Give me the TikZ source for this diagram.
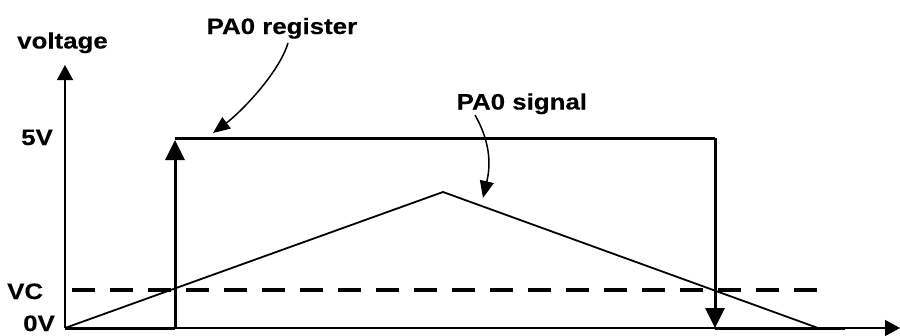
\documentclass[tikz,border=0pt]{standalone}
\usepackage{fontspec}
\newfontfamily\lab[FakeStretch=1.16,FakeBold=0.3]{Liberation Sans}
\usetikzlibrary{arrows.meta}
\tikzset{
  lbl/.style={anchor=base west,inner sep=0pt,font=\lab\bfseries\fontsize{22.3}{26}\selectfont},
  axisline/.style={line width=1.5pt},
  regline/.style={line width=3pt},
  sigline/.style={line width=1.8pt},
  vcline/.style={line width=3.5pt,dash pattern=on 23pt off 15pt,dash phase=-7pt},
  bigtip/.style={-{Triangle[length=20pt,width=19pt]}},
  axtip/.style={-{Triangle[length=15pt,width=16pt]}},
  annot/.style={line width=1.5pt,-{Triangle[length=17pt,width=14pt]}}
}
\begin{document}
\begin{tikzpicture}[x=1pt,y=-1pt]
\useasboundingbox (0,0) rectangle (900,335);
% coordinates
\coordinate (O) at (65,328);
\coordinate (ytop) at (65,65);
\coordinate (xend) at (900,328);
\coordinate (r0) at (175,328);
\coordinate (rup) at (175,140);
\coordinate (rtl) at (175,138);
\coordinate (rtr) at (715,138);
\coordinate (rdn) at (715,328);
\coordinate (rend) at (845,328);
\coordinate (peak) at (443,192);
\coordinate (sigend) at (818,328);
\coordinate (vc0) at (65,290);
\coordinate (vc1) at (818,290);
\coordinate (a1s) at (288,43);
\coordinate (a1e) at (213,133);
\coordinate (a2s) at (475,115);
\coordinate (a2e) at (483,198);
% labels
\node[lbl] (tvolt) at (17,48.5) {voltage};
\node[lbl] (treg) at (206.5,34) {PA0 register};
\node[lbl] (tsig) at (456.5,109.5) {PA0 signal};
\node[lbl] (t5v) at (21,145) {5V};
\node[lbl] (tvc) at (7,299) {VC};
\node[lbl] (t0v) at (23,331) {0V};
% axes
\draw[axisline,axtip] (O) -- (ytop);
\draw[axisline,axtip] (O) -- (xend);
% dashed VC
\draw[vcline] (vc0) -- (vc1);
% signal
\draw[sigline,line join=miter] (O) -- (peak) -- (sigend);
% register
\draw[regline] (O) -- (r0);
\draw[regline,bigtip] (r0) -- (rup);
\draw[regline] (rtl) -- (rtr);
\draw[regline,bigtip] (rtr) -- (rdn);
\draw[regline] (rdn) -- (rend);
% annotation arrows
\draw[annot] (a1s) .. controls (279,73) and (241,112) .. (a1e);
\draw[annot] (a2s) .. controls (492,145) and (490,168) .. (a2e);
\end{tikzpicture}
\end{document}
